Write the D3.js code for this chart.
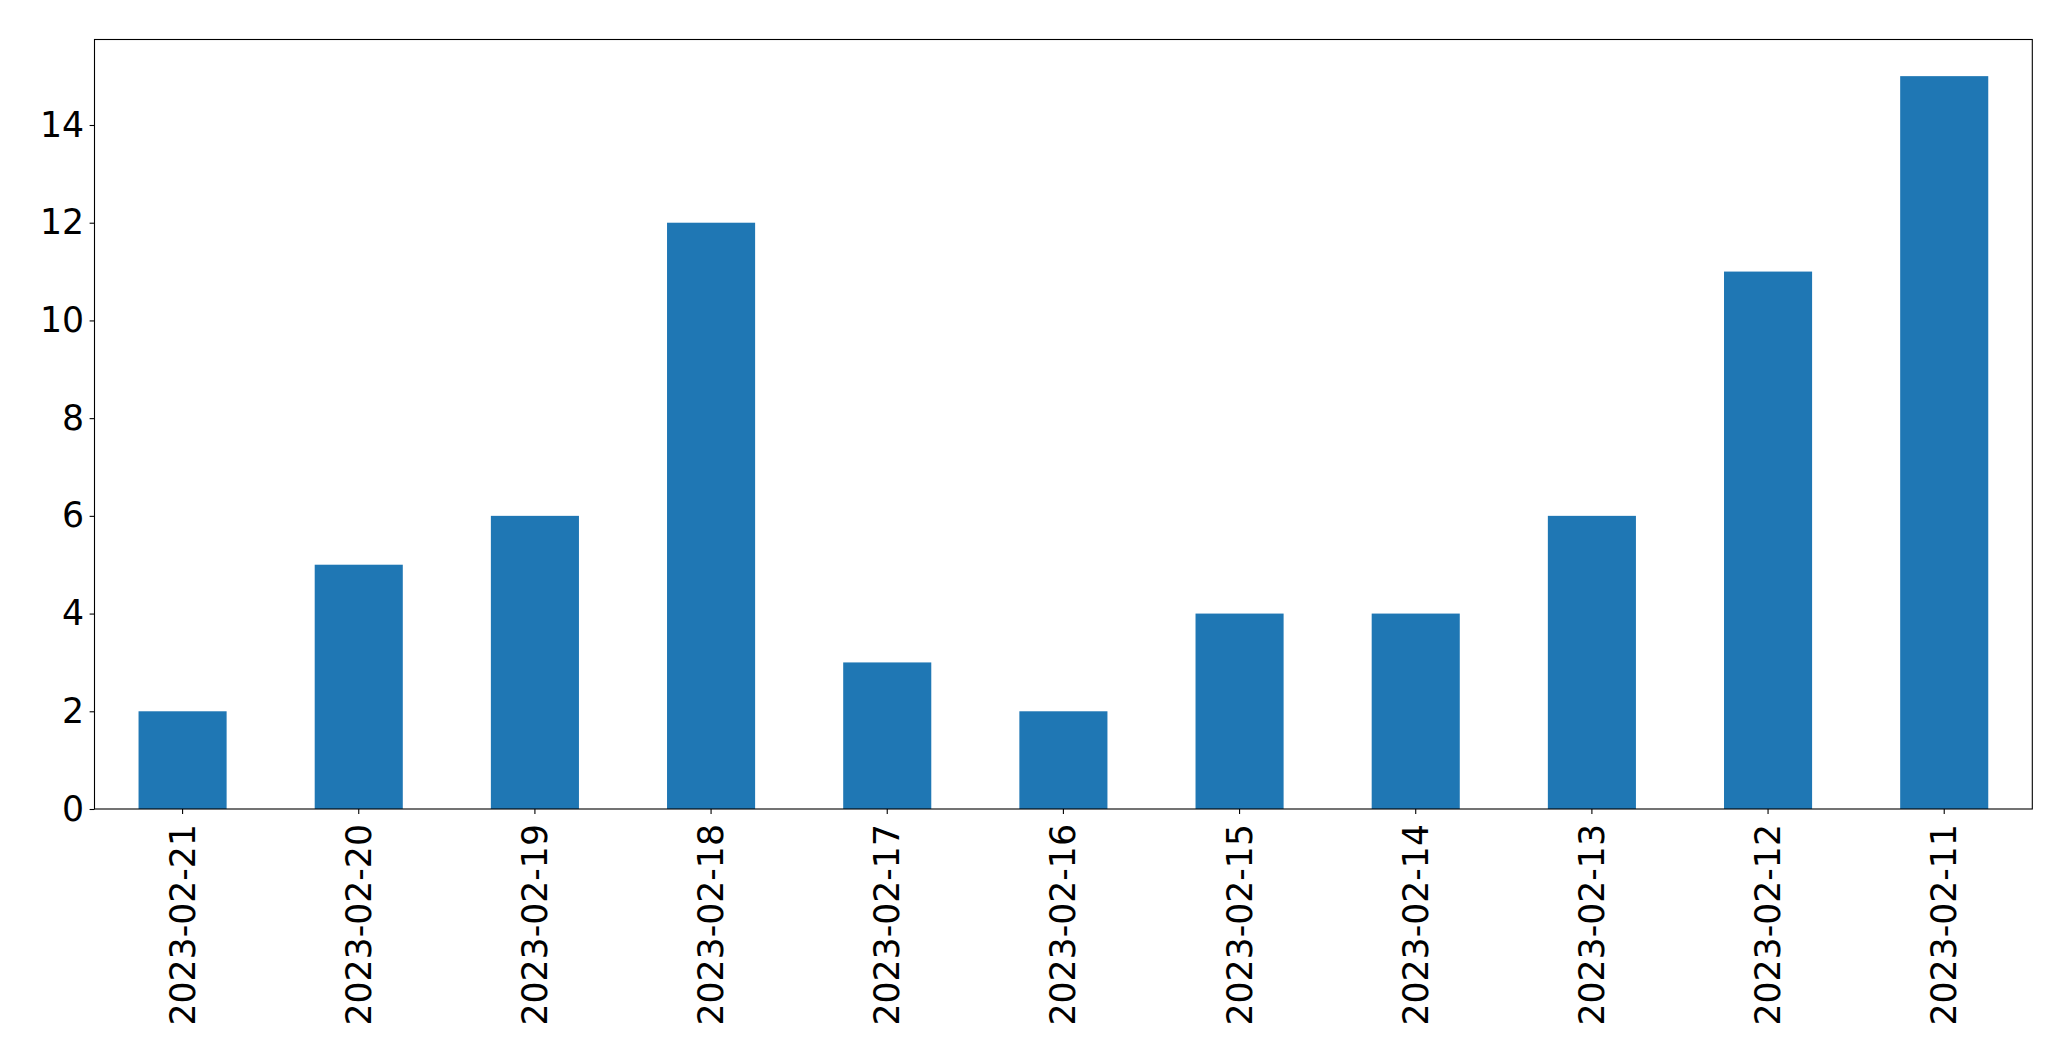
<!DOCTYPE html>
<html>
<head>
<meta charset="utf-8">
<script src="https://cdn.jsdelivr.net/npm/d3@7"></script>
<style>
  html, body { margin: 0; padding: 0; background: #fff; }
  svg { display: block; }
  text { font-family: "DejaVu Sans", sans-serif; }
</style>
</head>
<body>
<script>
const categories = ["2023-02-21","2023-02-20","2023-02-19","2023-02-18","2023-02-17","2023-02-16","2023-02-15","2023-02-14","2023-02-13","2023-02-12","2023-02-11"];
const values = [2, 5, 6, 12, 3, 2, 4, 4, 6, 11, 15];
const yTicks = [0, 2, 4, 6, 8, 10, 12, 14];

const W = 2071, H = 1061;
const mLeft = 94.5, mRight = 2032.3, mTop = 39.5, mBottom = 809;
const fontSize = 34.7;

const svg = d3.select("body").append("svg").attr("width", W).attr("height", H);

const x = d3.scaleBand().domain(categories).range([mLeft, mRight]).paddingInner(0.5).paddingOuter(0.25);
const y = d3.scaleLinear().domain([0, d3.max(values) * 1.05]).range([mBottom, mTop]);

svg.append("g").selectAll("rect").data(values).join("rect")
  .attr("x", (d, i) => x(categories[i]))
  .attr("width", x.bandwidth())
  .attr("y", d => y(d))
  .attr("height", d => y(0) - y(d))
  .attr("fill", "#1f77b4");

const xAxis = svg.append("g").attr("transform", `translate(0,${mBottom})`)
  .call(d3.axisBottom(x).tickSize(4.9).tickPadding(0).tickSizeOuter(0));
xAxis.select(".domain").remove();
xAxis.attr("font-family", "DejaVu Sans");
xAxis.selectAll("line").attr("stroke", "#000").attr("stroke-width", 1.1);
xAxis.selectAll("text")
  .attr("font-size", fontSize)
  .attr("fill", "#000")
  .attr("text-anchor", "end")
  .attr("dy", null)
  .attr("transform", "translate(0,15) rotate(-90)")
  .attr("x", 0).attr("y", 0)
  .attr("dominant-baseline", "central");

const yAxis = svg.append("g").attr("transform", `translate(${mLeft},0)`)
  .call(d3.axisLeft(y).tickValues(yTicks).tickFormat(d3.format("d")).tickSize(4.9).tickPadding(5.5).tickSizeOuter(0));
yAxis.select(".domain").remove();
yAxis.attr("font-family", "DejaVu Sans");
yAxis.selectAll("line").attr("stroke", "#000").attr("stroke-width", 1.1);
yAxis.selectAll("text").attr("font-size", fontSize).attr("fill", "#000");

svg.append("rect")
  .attr("x", mLeft).attr("y", mTop)
  .attr("width", mRight - mLeft).attr("height", mBottom - mTop)
  .attr("fill", "none").attr("stroke", "#000").attr("stroke-width", 1.1);
</script>
</body>
</html>
